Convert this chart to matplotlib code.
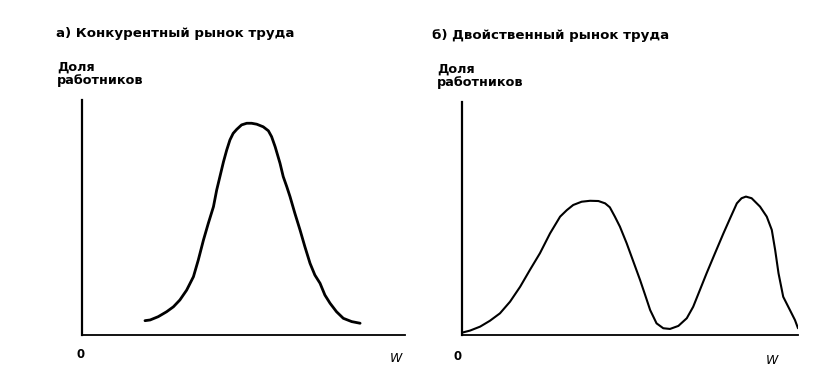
import matplotlib.pyplot as plt

# a) competitive market: one peak
wage_a = [19.5, 21.1, 23.6, 26.2, 28.3, 30.3, 32.4, 34.5, 36.0, 37.6, 39.1, 40.7,
          41.7, 42.7, 43.8, 44.8, 45.8, 46.8, 47.9, 49.4, 51.0, 52.5, 54.1, 56.1,
          57.7, 58.7, 59.8, 61.3, 62.3, 63.4, 64.4, 65.9, 67.5, 69.0, 70.6, 72.1,
          73.7, 75.2, 76.8, 78.8, 80.9, 83.5, 86.1]
share_a = [6.1, 6.4, 7.8, 9.9, 12.0, 14.9, 19.1, 24.8, 31.9, 40.4, 47.5, 54.6,
           61.7, 67.4, 73.7, 78.7, 83.0, 85.8, 87.5, 89.4, 90.1, 90.1, 89.7, 88.6,
           86.9, 84.4, 80.1, 73.1, 67.4, 63.1, 58.9, 51.8, 44.7, 37.6, 30.5, 25.5,
           22.0, 17.0, 13.5, 9.9, 7.1, 5.7, 5.0]

# b) dual market: two peaks
wage_b = [0, 2.4, 5.4, 8.3, 11.3, 14.3, 17.3, 20.2, 23.2, 26.2, 29.2, 31.2, 33.1,
          35.6, 38.1, 40.6, 42.6, 44.0, 45.5, 47.0, 49.0, 51.0, 53.0, 54.5, 56.0,
          57.9, 59.9, 61.9, 64.4, 66.9, 68.8, 70.8, 72.8, 75.3, 77.8, 79.8, 81.8,
          83.2, 84.5, 86.2, 88.7, 90.7, 92.2, 93.2, 94.2, 95.6, 97.6, 99.1, 100]
share_b = [1.0, 1.9, 3.6, 6.1, 9.3, 14.3, 20.7, 27.9, 35.1, 43.6, 50.8, 53.6, 55.8,
           57.2, 57.6, 57.5, 56.5, 54.8, 50.8, 46.5, 39.4, 31.5, 23.6, 17.2, 10.7,
           5.0, 2.9, 2.6, 3.9, 7.2, 12.1, 19.3, 26.5, 35.1, 43.6, 50.1, 56.5,
           58.7, 59.4, 58.7, 55.1, 50.8, 45.1, 36.5, 26.5, 16.4, 10.7, 6.4, 2.9]

titles = ['а) Конкурентный рынок труда', 'б) Двойственный рынок труда']
ylabel = 'Доля\nработников'

W, H = 821, 374
fig = plt.figure(figsize=(W / 100, H / 100), dpi=100)

font = dict(family='DejaVu Sans', fontweight='bold', color='black')


def px(x, y):
    return x / W, 1 - y / H


ax1 = fig.add_axes([82 / W, (H - 335) / H, 323 / W, 235 / H])
ax2 = fig.add_axes([462 / W, (H - 335) / H, 336 / W, 233 / H])

for ax, x, y, lw in [(ax1, wage_a, share_a, 2.0), (ax2, wage_b, share_b, 1.5)]:
    ax.plot(x, y, color='black', lw=lw, solid_capstyle='round', solid_joinstyle='round')
    ax.set_xlim(0, 100)
    ax.set_ylim(0, 100)
    ax.set_xticks([])
    ax.set_yticks([])
    for s in ['top', 'right']:
        ax.spines[s].set_visible(False)
    ax.spines['left'].set_linewidth(1.6)
    ax.spines['bottom'].set_linewidth(1.3)
    ax.patch.set_alpha(0)

# titles and axis labels
fig.text(*px(56, 34), titles[0], fontsize=9.6, va='center', ha='left', **font)
fig.text(*px(432, 36), titles[1], fontsize=9.6, va='center', ha='left', **font)
fig.text(*px(57, 74), ylabel, fontsize=9.2, va='center', ha='left', linespacing=1.05, **font)
fig.text(*px(437, 76), ylabel, fontsize=9.2, va='center', ha='left', linespacing=1.05, **font)

fig.text(*px(81, 354), '0', fontsize=8.5, va='center', ha='center', **font)
fig.text(*px(458, 357), '0', fontsize=8.5, va='center', ha='center', **font)
fig.text(*px(396, 359), 'W', fontsize=9, va='center', ha='center',
         family='DejaVu Sans', style='italic')
fig.text(*px(772, 360), 'W', fontsize=9, va='center', ha='center',
         family='DejaVu Sans', style='italic')

fig.savefig('out.png', dpi=100)
